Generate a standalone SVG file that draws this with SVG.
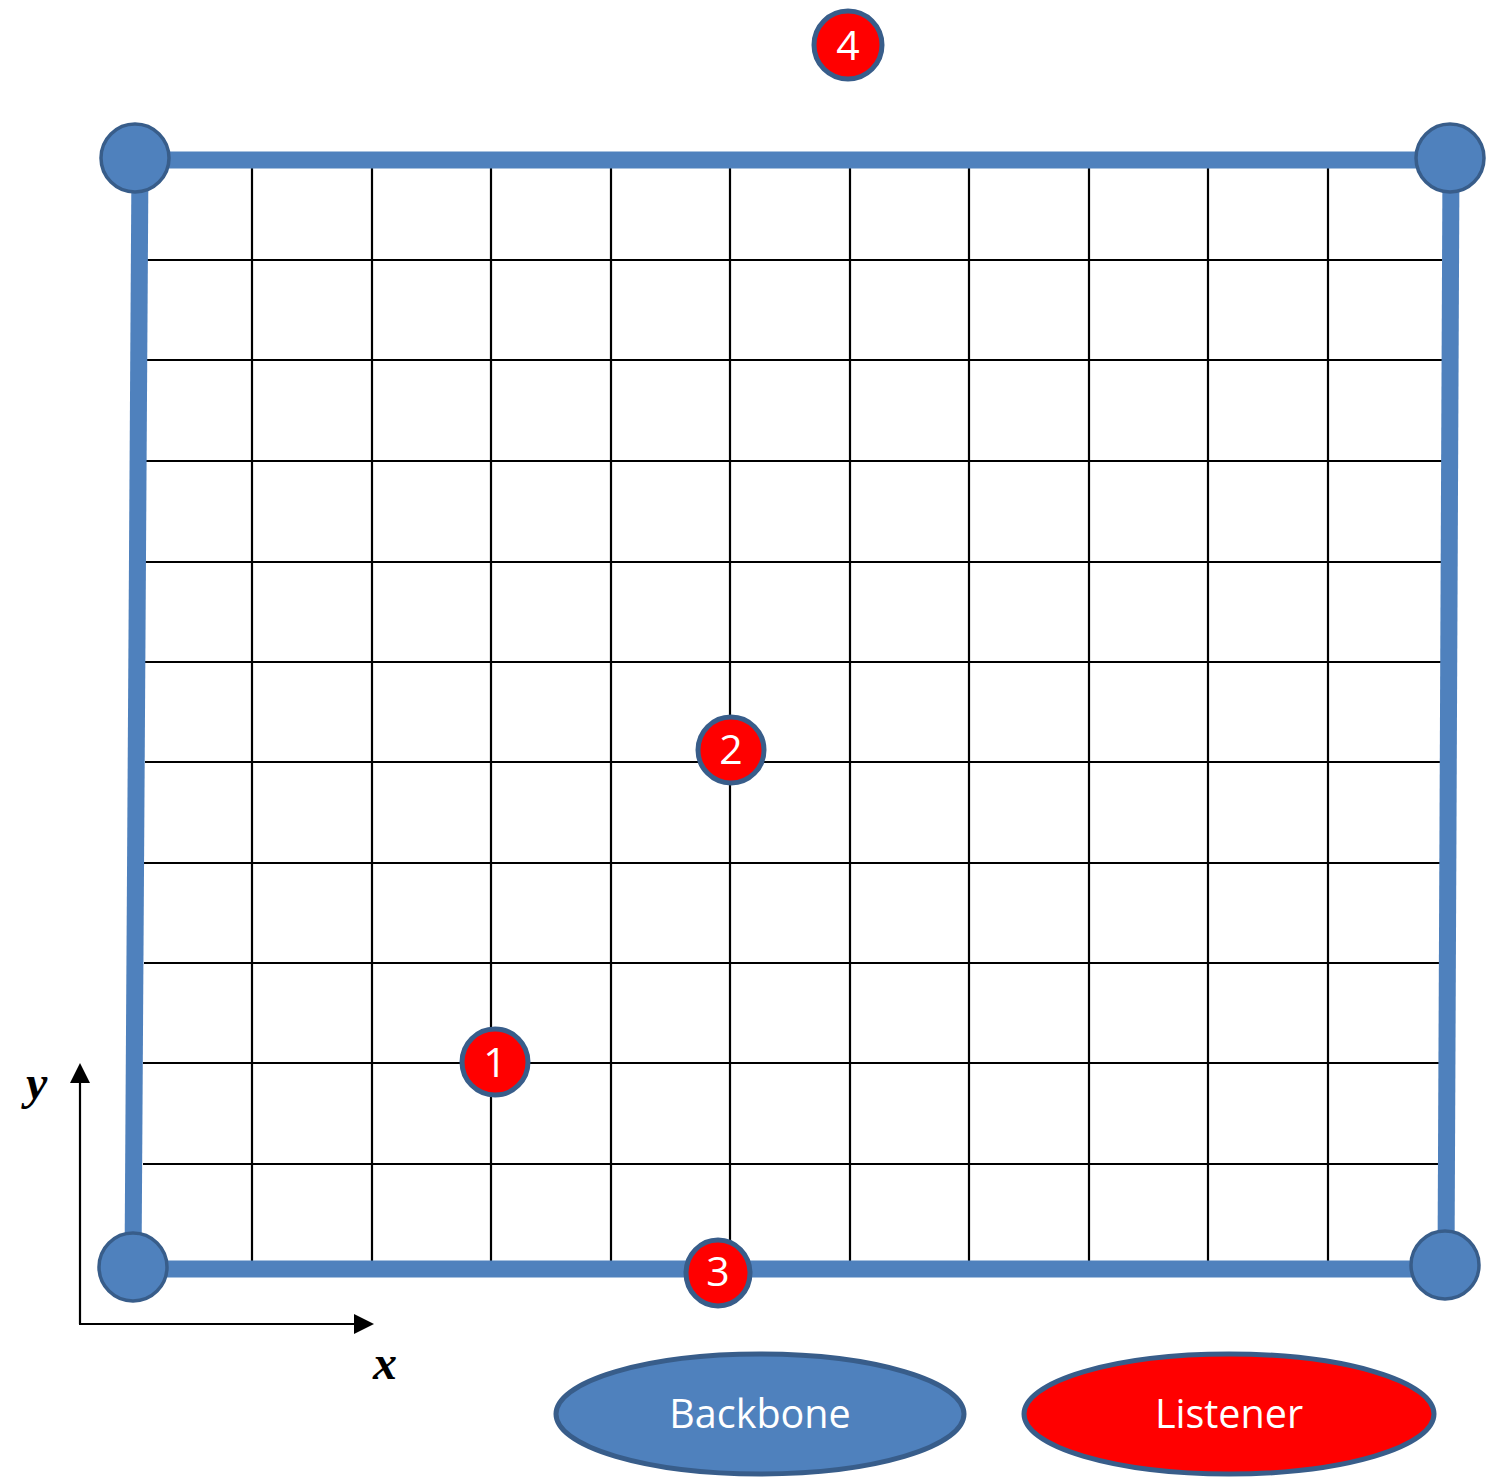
<svg xmlns="http://www.w3.org/2000/svg" width="1487" height="1480" viewBox="0 0 1487 1480">
  <defs>
    <style>
      .grid line { stroke: #000; stroke-width: 2.2; }
      .bar { stroke: #4F81BD; stroke-width: 17; fill: none; stroke-linecap: butt; }
      .corner { fill: #4F81BD; stroke: #385D8A; stroke-width: 3.5; }
      .listener { fill: #FF0000; stroke: #385D8A; stroke-width: 5; }
      .num { font-family: "Open Sans", "Liberation Sans", sans-serif; font-size: 41px; fill: #fff; text-anchor: middle; }
      .legend-text { font-family: "Open Sans", "Liberation Sans", sans-serif; font-size: 39.5px; fill: #fff; text-anchor: middle; }
      .axis { stroke: #000; stroke-width: 2.2; fill: none; }
      .axis-label { font-family: "Liberation Serif", "Times New Roman", serif; font-size: 48px; font-weight: bold; font-style: italic; fill: #000; }
    </style>
    <marker id="arrow" viewBox="0 0 20 20" refX="0" refY="10" markerWidth="20" markerHeight="20" markerUnits="userSpaceOnUse" orient="auto">
      <path d="M0,0 L20,10 L0,20 Z" fill="#000"/>
    </marker>
  </defs>

  <rect width="1487" height="1480" fill="#fff"/>

  <g id="grid" class="grid">
    <line x1="252" y1="168" x2="252" y2="1262"/>
    <line x1="372" y1="168" x2="372" y2="1262"/>
    <line x1="491" y1="168" x2="491" y2="1262"/>
    <line x1="611" y1="168" x2="611" y2="1262"/>
    <line x1="730" y1="168" x2="730" y2="1262"/>
    <line x1="850" y1="168" x2="850" y2="1262"/>
    <line x1="969" y1="168" x2="969" y2="1262"/>
    <line x1="1089" y1="168" x2="1089" y2="1262"/>
    <line x1="1208" y1="168" x2="1208" y2="1262"/>
    <line x1="1328" y1="168" x2="1328" y2="1262"/>
    <line x1="146" y1="260" x2="1442" y2="260"/>
    <line x1="146" y1="360" x2="1442" y2="360"/>
    <line x1="146" y1="461" x2="1442" y2="461"/>
    <line x1="145" y1="562" x2="1441" y2="562"/>
    <line x1="145" y1="662" x2="1441" y2="662"/>
    <line x1="145" y1="762" x2="1440" y2="762"/>
    <line x1="144" y1="863" x2="1440" y2="863"/>
    <line x1="144" y1="963" x2="1440" y2="963"/>
    <line x1="143" y1="1063" x2="1439" y2="1063"/>
    <line x1="143" y1="1164" x2="1439" y2="1164"/>
  </g>

  <g id="connectors">
    <line class="bar" x1="135" y1="160" x2="1450" y2="160"/>
    <line class="bar" x1="133" y1="1269" x2="1445" y2="1269"/>
    <line class="bar" x1="140" y1="160" x2="133" y2="1268"/>
    <line class="bar" x1="1451" y1="160" x2="1446" y2="1266"/>
  </g>

  <g id="corner-tl"><circle class="corner" cx="135" cy="158" r="34"/></g>
  <g id="corner-tr"><circle class="corner" cx="1450" cy="158" r="34"/></g>
  <g id="corner-bl"><circle class="corner" cx="133" cy="1267" r="34"/></g>
  <g id="corner-br"><circle class="corner" cx="1445" cy="1265" r="34"/></g>

  <g id="listener-1">
    <circle class="listener" cx="495" cy="1062" r="33"/>
    <text class="num" x="495" y="1077">1</text>
  </g>
  <g id="listener-2">
    <circle class="listener" cx="731" cy="750" r="33"/>
    <text class="num" x="731" y="764">2</text>
  </g>
  <g id="listener-3">
    <ellipse class="listener" cx="718" cy="1273" rx="32" ry="33"/>
    <text class="num" x="718" y="1286">3</text>
  </g>
  <g id="listener-4">
    <circle class="listener" cx="848" cy="45" r="34"/>
    <text class="num" x="848" y="60">4</text>
  </g>

  <g id="axes">
    <line class="axis" x1="80" y1="1324" x2="80" y2="1083" marker-end="url(#arrow)"/>
    <line class="axis" x1="79" y1="1324" x2="354" y2="1324" marker-end="url(#arrow)"/>
    <text class="axis-label" x="26" y="1099">y</text>
    <text class="axis-label" x="373" y="1379">x</text>
  </g>

  <g id="legend-backbone">
    <ellipse cx="760" cy="1414" rx="204" ry="60" fill="#4F81BD" stroke="#385D8A" stroke-width="5"/>
    <text class="legend-text" x="760" y="1428">Backbone</text>
  </g>
  <g id="legend-listener">
    <ellipse cx="1229" cy="1414" rx="205" ry="60" fill="#FF0000" stroke="#385D8A" stroke-width="5"/>
    <text class="legend-text" x="1229" y="1428">Listener</text>
  </g>
</svg>
